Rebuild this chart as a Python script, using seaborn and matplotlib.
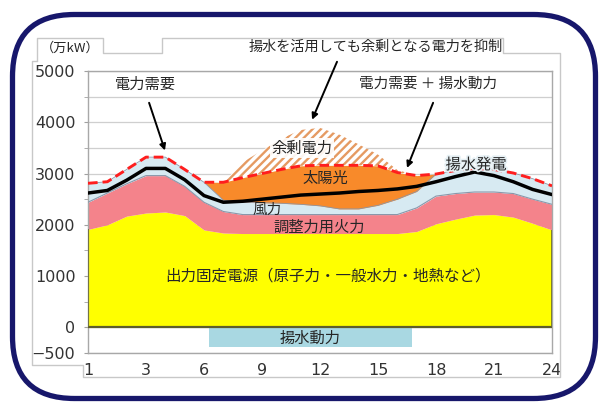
import numpy as np
import pandas as pd
import matplotlib
matplotlib.use("Agg")
import matplotlib.pyplot as plt
import matplotlib.patches as mpatches
import matplotlib.transforms as mtransforms
import matplotlib.patheffects as pe
from matplotlib.lines import Line2D
from matplotlib.ticker import MultipleLocator
import seaborn as sns

# ---- data (万kW per hour) ----
hours = [0, 1, 2, 3, 4, 5, 6, 7, 8, 9, 10, 11, 12, 13, 14, 15, 16, 17, 18, 19, 20, 21, 22, 23, 24]
hour_ticks = [0, 3, 6, 9, 12, 15, 18, 21, 24]
hour_tick_labels = ["1", "3", "6", "9", "12", "15", "18", "21", "24"]
value_ticks = [-500, 0, 1000, 2000, 3000, 4000, 5000]

fixed_output = [1910, 2000, 2170, 2230, 2250, 2180, 1900, 1840, 1830, 1830, 1830, 1830, 1830,
                1830, 1830, 1830, 1830, 1870, 2020, 2110, 2190, 2200, 2150, 2030, 1900]
thermal = [530, 620, 630, 730, 710, 570, 540, 420, 370, 370, 370, 370, 370,
           370, 370, 370, 370, 460, 540, 500, 450, 440, 460, 470, 500]
wind_pumped_gen = [370, 220, 280, 360, 360, 330, 390, 220, 240, 230, 220, 200, 170,
                   110, 110, 180, 300, 320, 430, 450, 460, 440, 400, 400, 360]
solar = [0, 0, 0, 0, 0, 0, 0, 350, 480, 570, 660, 750, 790,
         850, 850, 770, 520, 310, 0, 0, 0, 0, 0, 0, 0]
surplus = [0, 0, 0, 0, 0, 0, 0, 0, 300, 450, 600, 700, 730,
           600, 410, 220, 50, 0, 0, 0, 0, 0, 0, 0, 0]
demand = [2620, 2670, 2870, 3100, 3100, 2880, 2570, 2440, 2460, 2500, 2540, 2580, 2600,
          2620, 2650, 2670, 2700, 2750, 2840, 2940, 3030, 2960, 2840, 2690, 2590]
demand_plus_pumping = [2810, 2840, 3080, 3320, 3320, 3080, 2830, 2830, 2920, 3000, 3080, 3150, 3160,
                       3160, 3160, 3150, 3020, 2960, 2990, 3060, 3100, 3080, 3010, 2900, 2760]
pumping_start, pumping_end = 6.25, 16.75
pumping_power = -390

# ---- colours ----
YELLOW = "#FFFF00"
PINK = "#F4838B"
LIGHT_BLUE = "#D7EAF2"
ORANGE = "#F88A2A"
HATCH = "#E59A62"
PUMP = "#A9D8E2"
RED = "#FF1E1E"
EDGE = "#8A97AA"
TEXT = "#262626"

sns.set_style("white")
plt.rcParams["font.family"] = ["DejaVu Sans", "Noto Sans CJK JP"]
plt.rcParams["hatch.linewidth"] = 1.7
JP = ["Noto Sans CJK JP", "DejaVu Sans"]

df = pd.DataFrame({"hour": hours, "demand": demand, "demand_plus_pumping": demand_plus_pumping})

W, H = 606, 404
fig = plt.figure(figsize=(W / 100, H / 100), dpi=100)
ax = fig.add_axes([88 / W, 51 / H, 464 / W, 282 / H])

x = np.array(hours, dtype=float)
lvl1 = np.array(fixed_output, dtype=float)
lvl2 = lvl1 + np.array(thermal)
lvl3 = lvl2 + np.array(wind_pumped_gen)
lvl4 = lvl3 + np.array(solar)
dpp = np.array(demand_plus_pumping, dtype=float)

# stacked supply
ax.fill_between(x, 0, lvl1, color=YELLOW, lw=0, zorder=2)
ax.fill_between(x, lvl1, lvl2, color=PINK, lw=0, zorder=2)
ax.fill_between(x, lvl2, lvl3, color=LIGHT_BLUE, lw=0, zorder=2)
ax.fill_between(x, lvl3, lvl4, color=ORANGE, lw=0, zorder=2)
ax.plot(x, lvl2, color=EDGE, lw=0.8, zorder=3)
ax.plot(x, lvl3, color=EDGE, lw=0.6, zorder=3)

# curtailed surplus
ax.fill_between(x, dpp, dpp + np.array(surplus), facecolor="white", edgecolor=HATCH,
                hatch="////", lw=0, zorder=2)

# pumping load below zero
ax.bar((pumping_start + pumping_end) / 2, pumping_power, width=pumping_end - pumping_start,
       color=PUMP, lw=0, zorder=2)
ax.axhline(0, color="#5E5E2C", lw=1.6, zorder=4)
ax.vlines([hours[0], hours[-1]], 0, [fixed_output[0], fixed_output[-1]], color="#6A6A30", lw=1.2, zorder=4)

# demand lines
sns.lineplot(data=df, x="hour", y="demand", color="black", lw=2.5, ax=ax, zorder=6)
sns.lineplot(data=df, x="hour", y="demand_plus_pumping", color=RED, lw=2.1,
             linestyle=(0, (3.3, 1.7)), ax=ax, zorder=7)

# axes styling
ax.set_xlim(hours[0], hours[-1])
ax.set_ylim(-500, 5000)
ax.set_xticks(hour_ticks)
ax.set_xticklabels(hour_tick_labels)
ax.set_yticks(value_ticks)
ax.yaxis.set_minor_locator(MultipleLocator(500))
ax.grid(axis="y", which="both", color="#CFCFCF", lw=0.9)
ax.grid(axis="x", visible=False)
ax.set_axisbelow(True)
ax.set_xlabel("")
ax.set_ylabel("")
for s in ax.spines.values():
    s.set_color("#A8A8A8")
    s.set_linewidth(1.0)
ax.tick_params(axis="y", which="both", direction="out", length=3, color="#A0A0A0",
               labelsize=11.5, labelcolor="#333333", pad=6, left=True)
ax.tick_params(axis="y", which="minor", labelleft=False)
ax.tick_params(axis="x", length=0, labelsize=11.5, labelcolor="#333333", pad=7)

# in-chart labels
def label(xv, yv, s, size=11, **kw):
    return ax.text(xv, yv, s, ha="center", va="center", fontsize=size, color=TEXT,
                   family=JP, zorder=9, **kw)

label(11.07, 3500, "余剰電力", bbox=dict(facecolor="white", edgecolor="none", pad=1.0, alpha=0.9))
label(12.26, 2910, "太陽光")
label(9.26, 2300, "風力", size=10.5)
label(11.95, 1950, "調整力用火力")
t = label(20.07, 3170, "揚水発電")
t.set_path_effects([pe.withStroke(linewidth=2.5, foreground="#E6F0F4")])
label(12.42, 1000, "出力固定電源（原子力・一般水力・地熱など）", size=11.2)
label(11.48, -215, "揚水動力")
label(2.95, 4745, "電力需要")
label(17.59, 4745, "電力需要 ＋ 揚水動力", size=10.5)

arrow = dict(arrowstyle="-|>", lw=1.4, color="black", mutation_scale=9, shrinkA=0, shrinkB=0)
ax.annotate("", xy=(3.98, 3450), xytext=(3.16, 4380), arrowprops=arrow, zorder=9)
ax.annotate("", xy=(16.5, 3110), xytext=(17.85, 4380), arrowprops=arrow, zorder=9)
ax.annotate("", xy=(11.59, 4050), xytext=(12.88, 5180), arrowprops=arrow,
            annotation_clip=False, zorder=9)

# frame decorations in pixel coordinates (origin top-left)
px = mtransforms.Affine2D().scale(1 / W, -1 / H).translate(0, 1) + fig.transFigure
outline = [(37, 61), (37, 38), (103, 38), (103, 53), (162, 53), (162, 38), (503, 38), (503, 53),
           (560, 53), (560, 377), (83, 377), (83, 365), (32, 365), (32, 61), (37, 61)]
ox, oy = zip(*outline)
fig.add_artist(Line2D(ox, oy, transform=px, color="#C8C8C8", lw=1.0))
fig.text(70 / W, 1 - 48 / H, "（万kW）", ha="center", va="center", fontsize=9.5,
         color=TEXT, family=JP)
fig.text(376 / W, 1 - 47 / H, "揚水を活用しても余剰となる電力を抑制", ha="center", va="center",
         fontsize=10.2, color=TEXT, family=JP)
fig.add_artist(mpatches.FancyBboxPatch((12.5, 14.5), 583, 384,
                                       boxstyle="round,pad=0,rounding_size=62",
                                       transform=px, fill=False, edgecolor="#17176B", lw=3.8))

fig.savefig("out.png", dpi=100)
